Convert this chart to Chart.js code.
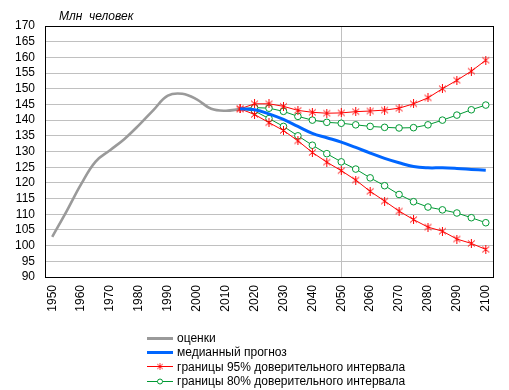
<!DOCTYPE html>
<html><head><meta charset="utf-8">
<script src="https://cdn.jsdelivr.net/npm/chart.js@4/dist/chart.umd.min.js"></script>
<style>
html,body{margin:0;padding:0;background:#fff;}
#wrap{position:relative;width:509px;height:390px;overflow:hidden;}
#c{position:absolute;left:0;top:0;}
#title{position:absolute;left:59px;top:9px;line-height:14px;font:italic 12px 'Liberation Sans',Arial,sans-serif;color:#000;white-space:pre;}
#legend{position:absolute;left:147px;top:331px;font:12px 'Liberation Sans',Arial,sans-serif;color:#000;}
.row{height:14.3px;line-height:14px;display:flex;align-items:center;white-space:pre;}
.row canvas{margin-right:4px;display:block;}
</style></head>
<body>
<div id="wrap">
<canvas id="c" width="509" height="390"></canvas>
<div id="title">Млн  человек</div>
<div id="legend"></div>
</div>
<script>
// ---- data ----
const estYears = [1950,1955,1960,1965,1970,1975,1980,1985,1990,1995,2000,2005,2010,2015];
const estimates = [102.8,111.0,119.6,126.8,130.4,134.0,138.4,143.2,147.8,148.4,146.6,143.6,143.0,143.5];
const projYears = [2015,2020,2025,2030,2035,2040,2045,2050,2055,2060,2065,2070,2075,2080,2085,2090,2095,2100];
const median  = [143.6,143.3,142.0,140.2,138.0,135.8,134.4,133.0,131.3,129.5,127.8,126.4,125.2,124.8,124.8,124.6,124.3,124.0];
const upper95 = [143.6,145.2,145.2,144.4,143.1,142.5,142.2,142.3,142.7,142.9,143.2,143.8,145.2,147.1,150.0,152.7,155.6,159.1];
const lower95 = [143.6,141.8,139.2,136.7,133.4,129.7,126.6,123.9,120.9,117.3,114.2,111.0,108.3,105.9,104.6,102.1,100.7,98.8];
const upper80 = [143.6,144.0,143.8,142.8,141.2,140.0,139.3,139.0,138.5,138.0,137.7,137.5,137.6,138.5,140.0,141.6,143.3,144.8];
const lower80 = [143.6,142.9,140.5,138.0,135.0,132.0,129.3,126.7,124.4,121.6,119.1,116.3,114.0,112.3,111.4,110.4,108.9,107.3];
const xTickYears = [1950,1960,1970,1980,1990,2000,2010,2020,2030,2040,2050,2060,2070,2080,2090,2100];
const markerYear = 2050;
const yMin = 90, yMax = 170, yStep = 5;
const labels = {
  est: 'оценки',
  med: 'медианный прогноз',
  ci95: 'границы 95% доверительного интервала',
  ci80: 'границы 80% доверительного интервала'
};

// ---- styles ----
const FONT = "'Liberation Sans', Arial, sans-serif";
const GRAY = '#9a9a9a', BLUE = '#0066ff', RED = '#ff0000', GREEN = '#009933', GRID = '#c0c0c0';

function starImg(){
  const c = document.createElement('canvas'); c.width = 9; c.height = 9;
  const g = c.getContext('2d'); g.strokeStyle = RED; g.lineWidth = 1;
  g.beginPath();
  g.moveTo(4.5,0); g.lineTo(4.5,9);
  g.moveTo(1,1.5); g.lineTo(8,7.5);
  g.moveTo(8,1.5); g.lineTo(1,7.5);
  g.stroke();
  return c;
}
const STAR = starImg();

function pts(xs, ys){ return xs.map((x,i)=>({x:x, y:ys[i]})); }

const redDs = (d)=>({data:pts(projYears,d), borderColor:RED, borderWidth:1, pointStyle:STAR, pointRadius:4, pointHoverRadius:4, tension:0, order:1});
const greenDs = (d)=>({data:pts(projYears,d), borderColor:GREEN, borderWidth:1, pointStyle:'circle',
  pointRadius:(c)=>c.dataIndex===0?0:3.3, pointBackgroundColor:'#fff', pointBorderColor:GREEN, pointBorderWidth:1, tension:0, order:2});

const frame = {
  id:'frame',
  afterDraw(chart){
    const a = chart.chartArea, ctx = chart.ctx;
    ctx.save(); ctx.strokeStyle = '#000'; ctx.lineWidth = 1;
    ctx.strokeRect(Math.round(a.left)+0.5, Math.round(a.top)+0.5, Math.round(a.right-a.left), Math.round(a.bottom-a.top));
    ctx.restore();
  }
};

const chart = new Chart(document.getElementById('c'), {
  type:'line',
  data:{datasets:[
    {label:labels.est, data:pts(estYears,estimates), borderColor:GRAY, borderWidth:2.6, pointRadius:0, tension:0.4, order:5},
    {label:labels.med, data:pts(projYears,median), borderColor:BLUE, borderWidth:3, pointRadius:0, tension:0.4, order:0},
    Object.assign({label:labels.ci95}, redDs(upper95)),
    Object.assign({label:labels.ci95}, redDs(lower95)),
    Object.assign({label:labels.ci80}, greenDs(upper80)),
    Object.assign({label:labels.ci80}, greenDs(lower80))
  ]},
  options:{
    responsive:false, animation:false, devicePixelRatio:1,
    layout:{padding:{left:0,right:16,top:26,bottom:73}},
    plugins:{legend:{display:false}, tooltip:{enabled:false}},
    scales:{
      x:{type:'linear', min:1947.5, max:2102.5,
        afterBuildTicks:(s)=>{ s.ticks = xTickYears.map(v=>({value:v})); },
        afterFit:(s)=>{ s.height = 40; },
        ticks:{autoSkip:false, minRotation:90, maxRotation:90, padding:8, color:'#000', font:{family:FONT,size:12},
          callback:(v)=>String(v)},
        grid:{drawTicks:false, color:(c)=> (c.tick && c.tick.value===markerYear) ? GRID : 'rgba(0,0,0,0)'},
        border:{color:'#000', width:1}
      },
      y:{min:yMin, max:yMax,
        afterFit:(s)=>{ s.width = 45; },
        ticks:{stepSize:yStep, autoSkip:false, padding:10, color:'#000', font:{family:FONT,size:12}},
        grid:{drawTicks:false, color:GRID},
        border:{color:'#000', width:1}
      }
    }
  },
  plugins:[frame]
});

// ---- HTML legend built from the chart's datasets ----
function sample(kind){
  const c = document.createElement('canvas'); c.width = 26; c.height = 9;
  const g = c.getContext('2d');
  if (kind==='est' || kind==='med'){
    g.strokeStyle = kind==='est'?GRAY:BLUE; g.lineWidth = 3;
    g.beginPath(); g.moveTo(0,4.5); g.lineTo(26,4.5); g.stroke();
  } else if (kind==='ci95'){
    g.strokeStyle = RED; g.lineWidth = 1;
    g.beginPath(); g.moveTo(0,4.5); g.lineTo(26,4.5); g.stroke();
    g.save(); g.translate(13,4.5); g.scale(0.8,0.8); g.drawImage(STAR, -4.5, -4.5); g.restore();
  } else {
    g.strokeStyle = GREEN; g.lineWidth = 1;
    g.beginPath(); g.moveTo(0,4.5); g.lineTo(26,4.5); g.stroke();
    g.fillStyle='#fff'; g.beginPath(); g.arc(13,4.5,2.5,0,Math.PI*2); g.fill(); g.stroke();
  }
  return c;
}
const leg = document.getElementById('legend');
const seen = new Set();
const kinds = {}; kinds[labels.est]='est'; kinds[labels.med]='med'; kinds[labels.ci95]='ci95'; kinds[labels.ci80]='ci80';
chart.data.datasets.forEach(ds=>{
  if (seen.has(ds.label)) return; seen.add(ds.label);
  const row = document.createElement('div'); row.className='row';
  row.appendChild(sample(kinds[ds.label]));
  const sp = document.createElement('span'); sp.textContent = ds.label; row.appendChild(sp);
  leg.appendChild(row);
});
</script>
</body></html>
